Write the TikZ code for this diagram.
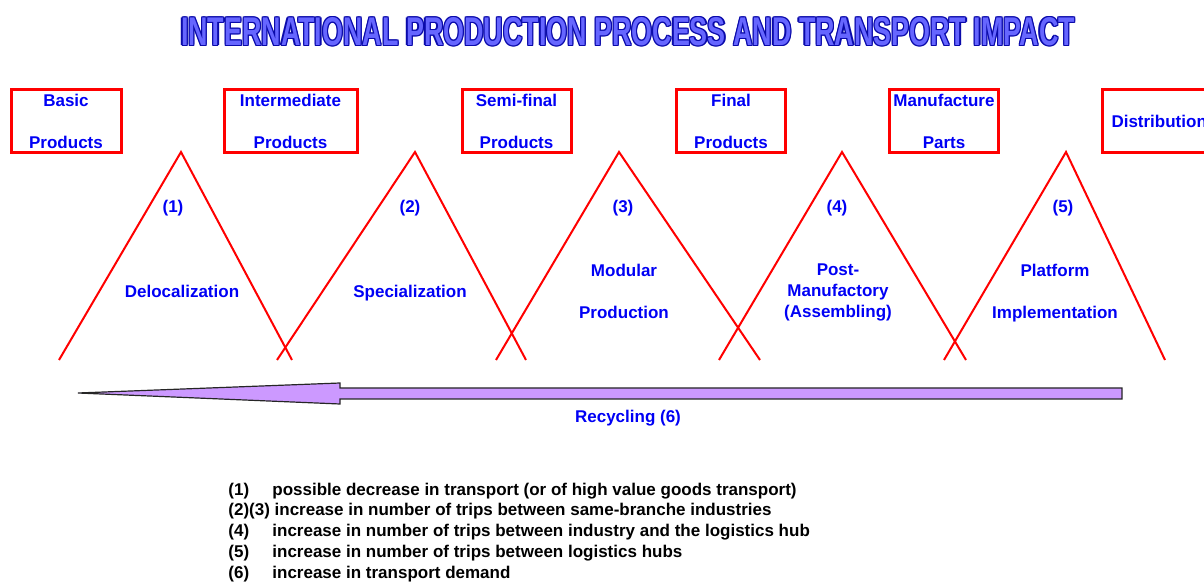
\documentclass[tikz,border=0pt]{standalone}
\usepackage{fontspec}
\setmainfont{Liberation Sans}
\usetikzlibrary{positioning}

\definecolor{rojo}{RGB}{255,0,0}
\definecolor{azul}{RGB}{0,0,245}
\definecolor{lila}{RGB}{204,153,255}
\definecolor{tituloazul}{RGB}{102,102,255}
\definecolor{bordeazul}{RGB}{10,10,170}

\tikzset{
  texto/.style={font=\fontsize{8.5pt}{10.5pt}\selectfont\bfseries, text=azul, align=center, inner sep=0pt},
  caja/.style={draw=rojo, line width=1.5pt, minimum height=31.5pt, texto},
  lado/.style={draw=rojo, line width=1pt},
  leyenda/.style={font=\fontsize{8.5pt}{10.5pt}\selectfont\bfseries, anchor=base west, inner sep=0pt},
}

\newcommand{\titulotexto}{\resizebox{447pt}{14pt}{\bfseries INTERNATIONAL PRODUCTION PROCESS AND TRANSPORT IMPACT}}

\begin{document}
\begin{tikzpicture}[x=0.5pt, y=-0.5pt]

        \useasboundingbox (0,0) rectangle (1204,582);
        \clip (0,0) rectangle (1204,582);

        % Titulo con contorno
        \foreach \dx/\dy [count=\k] in {1.2/0,-1.2/0,0/1.2,0/-1.2,1/1,1/-1,-1/1,-1/-1}
            \node[text=bordeazul, inner sep=0pt] (contorno\k) at (628+\dx,32+\dy) {\titulotexto};
        \node[text=tituloazul, inner sep=0pt] (titulo) at (628,32) {\titulotexto};

        % Cajas de productos
        \node[caja, minimum width=55pt] (basic) at (66,121) {Basic\\[10.5pt]Products};
        \node[caja, minimum width=66.5pt] (intermediate) at (290.5,121) {Intermediate\\[10.5pt]Products};
        \node[caja, minimum width=54.5pt] (semifinal) at (516.5,121) {Semi-final\\[10.5pt]Products};
        \node[caja, minimum width=54.5pt] (final) at (731,121) {Final\\[10.5pt]Products};
        \node[caja, minimum width=54.5pt] (manufacture) at (944,121) {Manufacture\\[10.5pt]Parts};
        \node[caja, minimum width=54.5pt, text width=54.5pt, align=left] (distribution) at (1157,121) {\hspace*{4.5pt}Distribution};

        % Triangulos
        \coordinate (v1) at (181,152); \coordinate (i1) at (59,360);  \coordinate (d1) at (292,360);
        \coordinate (v2) at (415,152); \coordinate (i2) at (277,360); \coordinate (d2) at (526,360);
        \coordinate (v3) at (619,152); \coordinate (i3) at (496,360); \coordinate (d3) at (760,360);
        \coordinate (v4) at (842,152); \coordinate (i4) at (719,360); \coordinate (d4) at (966,360);
        \coordinate (v5) at (1066,152); \coordinate (i5) at (944,360); \coordinate (d5) at (1165,360);
        \foreach \t in {1,...,5}
            \draw[lado] (i\t) -- (v\t) -- (d\t);

        % Etapas
        \node[texto] (n1) at (173,208) {(1)};
        \node[texto] (deloc) at (182,291) {Delocalization};
        \node[texto] (n2) at (410,208) {(2)};
        \node[texto] (spec) at (410,293) {Specialization};
        \node[texto] (n3) at (623,208) {(3)};
        \node[texto] (modular) at (624,291.5) {Modular\\[10.5pt]Production};
        \node[texto] (n4) at (837,208) {(4)};
        \node[texto] (post) at (838,292) {Post-\\Manufactory\\(Assembling)};
        \node[texto] (n5) at (1063,208) {(5)};
        \node[texto] (platform) at (1055,293.5) {Platform\\[10.5pt]Implementation};

        % Flecha de reciclaje
        \coordinate (punta) at (78,393);
        \filldraw[fill=lila, draw=black!85, line width=0.6pt] (punta) -- (340,383) -- (340,388) -- (1122,388)
            -- (1122,399) -- (340,399) -- (340,404) -- cycle;
        \node[texto] (recycling) at (628,418) {Recycling (6)};

        % Leyenda
        \node[leyenda] (l1) at (228,495) {(1)};
        \node[leyenda] (t1) at (272,495) {possible decrease in transport (or of high value goods transport)};
        \node[leyenda] (t23) at (228,515) {(2)(3) increase in number of trips between same-branche industries};
        \node[leyenda] (l4) at (228,536) {(4)};
        \node[leyenda] (t4) at (272,536) {increase in number of trips between industry and the logistics hub};
        \node[leyenda] (l5) at (228,557) {(5)};
        \node[leyenda] (t5) at (272,557) {increase in number of trips between logistics hubs};
        \node[leyenda] (l6) at (228,578) {(6)};
        \node[leyenda] (t6) at (272,578) {increase in transport demand};

    \end{tikzpicture}
\end{document}
